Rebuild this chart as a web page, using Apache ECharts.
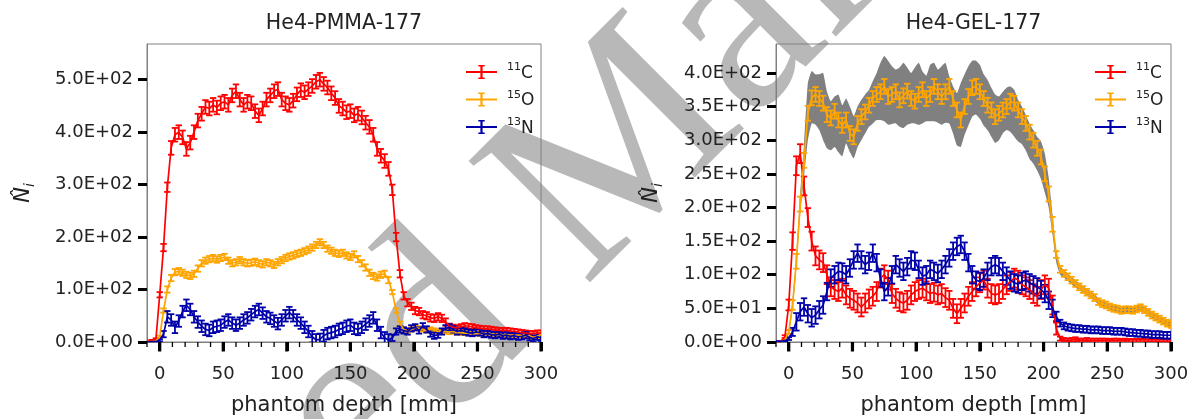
<!DOCTYPE html>
<html><head><meta charset="utf-8">
<script src="https://cdn.jsdelivr.net/npm/echarts@6/dist/echarts.min.js"></script>
<style>html,body{margin:0;padding:0;background:#fff;} #c{width:1193px;height:419px;}</style>
</head><body><div id="c"></div>
<script>
// phantom depth [mm]
const depth = [-9,-6,-3, 0,3,6,9,12,15,18,21,24,27, 30,33,36,39,42,45,48,51,54,57, 60,63,66,69,72,75,78,81,84,87,
  90,93,96,99,102,105,108,111,114,117, 120,123,126,129,132,135,138,141,144,147, 150,153,156,159,162,165,168,171,174,177,
  180,183,186,189,192,195,198,201,204,207, 210,213,216,219,222,225,228,231,234,237, 240,243,246,249,252,255,258,261,264,267,
  270,273,276,279,282,285,288,291,294,297, 300];

// He4-PMMA-177
const pmmaC11 = [2,3,5, 90,180,295,370,395,400,390,368,380,400, 422,435,448,445,452,447,455,458,452,470, 478,462,452,458,455,440,432,445,462,470,
  478,482,462,455,452,460,472,480,476,482, 488,496,500,492,485,474,465,450,445,438, 440,432,435,428,418,410,395,368,355,345,
  330,290,200,130,88,75,68,60,58,52, 50,46,45,48,45,38,30,28,27,29, 31,30,29,27,26,25,25,24,23,22, 22,22,21,20,19,18,17,16,16,17, 17];
const pmmaC11Err = [1,1,2, 5,7,9,13,13,13,13,13,13,13, 13,13,13,13,13,13,13,13,13,13, 13,13,13,13,13,13,13,13,13,13,
  13,13,13,13,13,13,13,13,13,13, 13,13,13,13,13,13,13,13,13,13, 13,13,13,13,13,13,13,13,13,13,
  13,10,8,7,7,7,7,7,7,7, 7,7,7,7,7,7,5,5,5,5, 5,5,5,5,5,5,5,5,5,5, 5,5,5,5,5,5,5,5,5,5, 5];
const pmmaO15 = [1,1,2, 10,60,100,122,133,135,132,128,126,130, 140,150,155,158,160,157,160,162,155,150, 152,156,152,150,151,153,150,148,152,150,
  147,152,156,160,163,165,168,170,173,176, 180,185,190,185,178,174,170,168,170,165, 162,167,158,150,142,132,126,123,128,130,
  118,95,60,35,24,20,24,27,26,24, 22,24,22,20,21,20,19,20,18,18, 17,17,16,16,17,16,15,15,14,14, 13,14,13,12,13,12,11,12,9,11, 14];
const pmmaO15Err = [0.5,0.5,1, 2,4,6,6,6,6,6,6,6,6, 6,6,6,6,6,6,6,6,6,6, 6,6,6,6,6,6,6,6,6,6,
  6,6,6,6,6,6,6,6,6,6, 6,6,6,6,6,6,6,6,6,6, 6,6,6,6,6,6,6,6,6,6,
  6,4,4,4,4,4,4,4,4,4, 4,4,4,4,4,4,4,4,4,4, 4,4,4,4,4,4,4,4,4,4, 4,4,4,4,4,4,4,4,4,4, 4];
const pmmaN13 = [0.5,1,1, 3,15,48,42,28,40,58,70,62,48, 38,30,24,22,28,30,32,38,42,36, 32,36,42,46,52,58,62,55,48,45,
  40,35,42,50,56,50,42,36,28,20, 10,4,5,12,16,18,20,24,26,30, 32,26,24,28,34,40,46,32,18,8,
  4,8,20,24,22,20,26,28,22,30, 24,16,12,14,20,26,28,24,20,22, 20,18,17,19,18,15,16,14,13,15, 12,13,11,12,10,11,13,9,6,10, 8];
const pmmaN13Err = [0.5,0.5,1, 2,6,11,11,11,11,11,11,11,11, 11,11,11,11,11,11,11,11,11,11, 11,11,11,11,11,11,11,11,11,11,
  11,11,11,11,11,11,11,11,11,11, 11,11,11,11,11,11,11,11,11,11, 11,11,11,11,11,11,11,11,11,11,
  11,6,6,6,6,6,6,6,6,6, 6,6,6,6,6,6,6,6,6,6, 6,6,6,6,6,6,6,6,6,6, 6,6,6,6,6,6,6,6,6,6, 6];

// He4-GEL-177
const gelC11 = [0.5,1,8, 55,150,262,280,232,185,150,128,122,118, 100,82,78,75,80,70,65,62,58,52, 58,64,68,75,95,100,92,72,65,60,
  58,62,70,75,78,80,76,72,74,70, 72,66,62,50,42,50,58,68,75,82, 88,92,80,72,70,72,78,85,90,95,
  92,85,82,78,72,68,78,85,80,55, 20,5,3,2,3,4,2,2,3,2, 2,2,2,2,1.5,2,2,1.5,2,1.5, 1.5,1.5,1.5,1.5,1,1.5,1,1,1,1, 1];
const gelC11Err = [0.5,0.5,2, 8,13,14,14,14,14,14,14,14,14, 14,14,14,14,14,14,14,14,14,14, 14,14,14,14,14,14,14,14,14,14,
  14,14,14,14,14,14,14,14,14,14, 14,14,14,14,14,14,14,14,14,14, 14,14,14,14,14,14,14,14,14,14,
  14,14,14,14,14,14,14,14,14,14, 9,3,3,3,3,3,3,3,3,3, 3,3,3,3,3,3,3,3,3,3, 3,3,3,3,3,3,3,3,3,3, 3];
const gelO15 = [0.5,1,3, 15,55,120,205,270,340,363,368,362,355, 338,333,343,330,322,330,310,305,325,335, 342,352,362,368,372,380,365,368,372,360,
  366,373,362,358,368,375,362,368,380,372, 365,372,380,362,345,330,350,365,378,380, 372,362,352,345,335,340,345,350,358,355,
  345,335,325,312,300,288,275,250,220,175, 130,108,102,97,92,87,82,78,74,70, 66,60,57,55,52,50,49,47,48,48, 47,49,51,48,44,40,37,34,31,28, 26];
const gelO15Err = [0.5,0.5,1, 3,7,11,11,11,11,11,11,11,11, 11,11,11,11,11,11,11,11,11,11, 11,11,11,11,11,11,11,11,11,11,
  11,11,11,11,11,11,11,11,11,11, 11,11,11,11,11,11,11,11,11,11, 11,11,11,11,11,11,11,11,11,11,
  11,11,11,11,11,11,11,11,11,11, 5,5,5,5,5,5,5,5,5,5, 5,5,5,5,5,5,5,5,5,5, 5,5,5,5,5,5,5,5,5,5, 5];
const gelO15BandHigh = [1,2,5, 18,62,130,220,295,385,403,398,398,400, 372,358,365,368,352,362,350,336,350,360, 368,375,388,400,415,425,418,410,405,408,
  415,408,400,408,415,402,396,412,415,405, 410,415,395,380,370,385,398,410,418,418, 412,398,390,378,368,365,372,378,380,375,
  360,350,338,325,315,305,298,280,245,190, 135,113,107,102,97,92,87,83,79,75, 71,65,62,60,57,55,54,52,53,53, 52,54,56,53,49,45,42,39,36,33, 31];
const gelO15BandLow = [0,0.5,1, 12,48,110,190,245,300,325,323,315,300, 288,285,290,282,276,295,282,273,290,300, 310,320,325,330,330,328,323,324,325,320,
  318,323,325,325,323,325,328,328,328,326, 323,326,325,310,292,290,308,322,335,338, 332,322,315,305,296,300,310,315,312,305,
  298,294,285,272,265,255,242,222,200,160, 118,100,96,91,86,81,77,73,69,65, 61,56,52,50,47,45,44,42,43,43, 42,44,46,43,39,35,32,29,26,23, 21];
const gelN13 = [1,1,2, 5,15,30,45,52,42,36,40,48,55, 75,95,100,105,104,100,110,122,132,122, 115,120,132,118,95,75,82,100,115,110,
  105,112,122,120,108,98,100,108,105,102, 108,115,125,135,142,145,135,118,100,92, 90,95,105,112,115,112,105,98,92,88,
  86,90,92,88,85,82,78,72,62,50, 38,28,24,22,21,20,20,19,19,18, 18,18,17,17,17,16,16,16,15,14, 14,13,13,12,12,11,11,11,10,10, 10];
const gelN13Err = [0.5,0.5,1, 2,6,13,13,13,13,13,13,13,13, 13,13,13,13,13,13,13,13,13,13, 13,13,13,13,13,13,13,13,13,13,
  13,13,13,13,13,13,13,13,13,13, 13,13,13,13,13,13,13,13,13,13, 13,13,13,13,13,13,13,13,13,13,
  13,13,13,13,13,13,13,13,13,13, 7,5,5,5,5,5,5,5,5,5, 5,5,5,5,5,5,5,5,5,5, 5,5,5,5,5,5,5,5,5,5, 5];

// ticks
const xTicks = [0,50,100,150,200,250,300];
const xMinorTicks = [-10,10,20,30,40,60,70,80,90,110,120,130,140,160,170,180,190,210,220,230,240,260,270,280,290];
const yTicksPMMA = [0,100,200,300,400,500];
const yTicksGEL = [0,50,100,150,200,250,300,350,400];
const isotopes = ['11C','15O','13N'];
const colors = {'11C':'#ff0000','15O':'#ffa500','13N':'#0000aa'};

[pmmaC11,pmmaC11Err,pmmaO15,pmmaO15Err,pmmaN13,pmmaN13Err,gelC11,gelC11Err,gelO15,gelO15Err,gelO15BandHigh,gelO15BandLow,gelN13,gelN13Err]
  .forEach((a,i)=>{ if(a.length!==depth.length) throw new Error('length mismatch '+i+': '+a.length); });

function sci(v){
  if (v === 0) return '0.0E+00';
  const e = Math.floor(Math.log10(Math.abs(v)) + 1e-9);
  const m = v/Math.pow(10,e);
  return m.toFixed(1)+'E'+(e<0?'-':'+')+String(Math.abs(e)).padStart(2,'0');
}

const FONT = 'DejaVu Sans';
const SPINE = '#808080';
const grids = [
  {left:147, top:44, width:394, height:298, show:true, borderColor:SPINE, borderWidth:1, backgroundColor:'transparent'},
  {left:776, top:44, width:395, height:298, show:true, borderColor:SPINE, borderWidth:1, backgroundColor:'transparent'}
];
const xAxes = [], yAxes = [];
[0,1].forEach(g=>{
  xAxes.push({gridIndex:g, type:'value', position:'bottom', min:-10, max:300,
    axisLine:{show:true, onZero:false, lineStyle:{color:SPINE, width:1}}, splitLine:{show:false},
    axisTick:{show:true, inside:false, customValues:xTicks, length:9, lineStyle:{color:'#000', width:3}},
    axisLabel:{customValues:xTicks, fontSize:18, color:'#222', margin:23, fontFamily:FONT}});
  const yt = g===0 ? yTicksPMMA : yTicksGEL;
  yAxes.push({gridIndex:g, type:'value', position:'left', min:0, max: g===0 ? 568 : 443,
    axisLine:{show:true, onZero:false, lineStyle:{color:SPINE, width:1}}, splitLine:{show:false},
    axisTick:{show:true, inside:false, customValues:yt, length:9, lineStyle:{color:'#000', width:3}},
    axisLabel:{customValues:yt, formatter:sci, fontSize:18, color:'#222', margin:14, fontFamily:FONT}});
});

function errRender(color){
  return function(params, api){
    const x = api.value(0), y = api.value(1), e = api.value(2);
    const lo = api.coord([x, y-e]), hi = api.coord([x, y+e]);
    const c = 3.2, st = {stroke:color, lineWidth:1.8};
    return {type:'group', children:[
      {type:'line', shape:{x1:lo[0], y1:lo[1], x2:hi[0], y2:hi[1]}, style:st},
      {type:'line', shape:{x1:lo[0]-c, y1:lo[1], x2:lo[0]+c, y2:lo[1]}, style:st},
      {type:'line', shape:{x1:hi[0]-c, y1:hi[1], x2:hi[0]+c, y2:hi[1]}, style:st}
    ]};
  };
}

const series = [];
function addIsotope(g, name, vals, errs){
  const col = colors[name];
  series.push({type:'custom', name:name, xAxisIndex:g, yAxisIndex:g, clip:true, animation:false,
    itemStyle:{color:col}, renderItem: errRender(col), encode:{x:0, y:1},
    data: depth.map((x,i)=>[x, vals[i], errs[i]])});
  series.push({type:'line', name:name, xAxisIndex:g, yAxisIndex:g, clip:true, animation:false,
    showSymbol:false, symbol:'none', lineStyle:{color:col, width:1.7}, itemStyle:{color:col},
    data: depth.map((x,i)=>[x, vals[i]])});
}
// GEL band (drawn first so lines sit on top)
series.push({type:'custom', name:'band', xAxisIndex:1, yAxisIndex:1, clip:true, animation:false, silent:true,
  data: depth.map((x,i)=>[x, gelO15BandLow[i], gelO15BandHigh[i]]), encode:{x:0, y:[1,2]},
  renderItem: function(params, api){
    if (params.dataIndex !== 0) return null;
    const up = depth.map((x,i)=>api.coord([x, gelO15BandHigh[i]]));
    const dn = depth.map((x,i)=>api.coord([x, gelO15BandLow[i]])).reverse();
    return {type:'polygon', shape:{points: up.concat(dn), smooth:0.15}, style:{fill:'#808080'}};
  }});
addIsotope(0,'11C',pmmaC11,pmmaC11Err);
addIsotope(0,'15O',pmmaO15,pmmaO15Err);
addIsotope(0,'13N',pmmaN13,pmmaN13Err);
addIsotope(1,'11C',gelC11,gelC11Err);
addIsotope(1,'15O',gelO15,gelO15Err);
addIsotope(1,'13N',gelN13,gelN13Err);

const icon = 'path://M0,6.1H31V8.1H0Z M14.4,0H16.6V14H14.4Z M12.3,0H18.7V1.6H12.3Z M12.3,12.4H18.7V14H12.3Z';
function legendAt(left){
  return {left:left, top:57, orient:'vertical', itemWidth:31, itemHeight:14, itemGap:7.5, selectedMode:false,
    data: isotopes.map(n=>({name:n, icon:icon})),
    formatter: n => '{s|'+n.slice(0,2)+'}{b|'+n.slice(2)+'}',
    textStyle:{color:'#222', fontFamily:FONT, padding:[0,0,0,5],
      rich:{s:{fontSize:11, fontFamily:FONT, color:'#222', verticalAlign:'top', lineHeight:12},
            b:{fontSize:17, fontFamily:FONT, color:'#222', lineHeight:20, verticalAlign:'bottom'}}}};
}

const graphic = [
  {type:'text', x:585, y:190, rotation:45*Math.PI/180, z:-10, silent:true,
   style:{text:'Accepted Manuscript', fontSize:262, fontFamily:'Liberation Serif', fill:'#b8b8b8', align:'center', verticalAlign:'middle'}},
  {type:'text', x:344, y:24, style:{text:'He4-PMMA-177', fontSize:20.5, fontFamily:FONT, fill:'#222', align:'center', verticalAlign:'middle'}},
  {type:'text', x:973.5, y:24, style:{text:'He4-GEL-177', fontSize:20.5, fontFamily:FONT, fill:'#222', align:'center', verticalAlign:'middle'}},
  {type:'text', x:344, y:406, style:{text:'phantom depth [mm]', fontSize:21, fontFamily:FONT, fill:'#222', align:'center', verticalAlign:'middle'}},
  {type:'text', x:973.5, y:406, style:{text:'phantom depth [mm]', fontSize:21, fontFamily:FONT, fill:'#222', align:'center', verticalAlign:'middle'}}
];
[[24,193],[652,193]].forEach(p=>{
  graphic.push({type:'text', x:p[0], y:p[1], rotation:Math.PI/2,
    style:{text:'{n|N\u0302}{s|i}', align:'center', verticalAlign:'middle',
      rich:{n:{fontSize:21, fontStyle:'italic', fontFamily:FONT, fill:'#222', lineHeight:26, verticalAlign:'middle'},
            s:{fontSize:14, fontStyle:'italic', fontFamily:FONT, fill:'#222', lineHeight:26, verticalAlign:'bottom'}}}});
});

const chart = echarts.init(document.getElementById('c'), null, {renderer:'canvas'});
chart.setOption({
  animation:false, backgroundColor:'#fff',
  grid: grids, xAxis: xAxes, yAxis: yAxes, series: series,
  legend: [legendAt(461), legendAt(1090)],
  graphic: graphic
});

// x-axis tick marks (major + minor), positioned through the axis scale
const tickMarks = [];
[0,1].forEach(g=>{
  [[xMinorTicks, 5, 1.3], [xTicks, 9.5, 3.2]].forEach(([vals, len, w])=>{
    vals.forEach(v=>{
      const p = chart.convertToPixel({gridIndex:g}, [v, 0]);
      tickMarks.push({type:'rect', silent:true, z:20, shape:{x:p[0]-w/2, y:p[1], width:w, height:len}, style:{fill:'#000'}});
    });
  });
});
chart.setOption({graphic: graphic.concat(tickMarks)});
</script></body></html>
